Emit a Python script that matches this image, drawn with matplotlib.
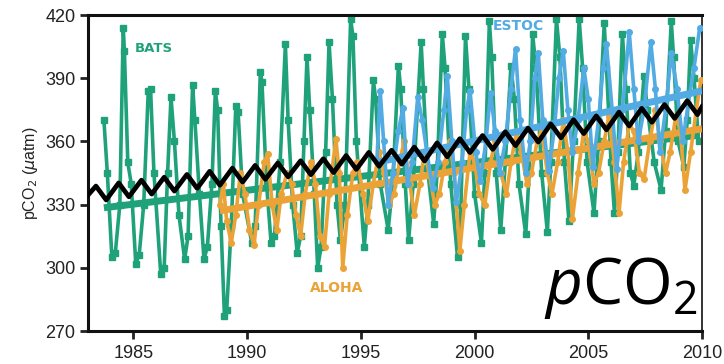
import numpy as np
import matplotlib as mpl
mpl.use('Agg')
from matplotlib import pyplot as plt

# BATS (green): decimal year, pCO2
bats_t = [1983.70, 1983.85, 1984.05, 1984.20, 1984.40, 1984.55, 1984.60, 1984.75, 1984.90,
          1985.10, 1985.25, 1985.45, 1985.65, 1985.75, 1985.90, 1986.20, 1986.35, 1986.50,
          1986.65, 1986.80, 1987.00, 1987.25, 1987.40, 1987.60, 1987.70, 1987.90, 1988.10,
          1988.25, 1988.45, 1988.60, 1988.70, 1988.85, 1989.00, 1989.10, 1989.30, 1989.50,
          1989.60, 1989.80, 1990.20, 1990.35, 1990.58, 1990.65, 1990.85, 1991.05, 1991.20,
          1991.45, 1991.68, 1991.80, 1992.00, 1992.20, 1992.35, 1992.50, 1992.63, 1992.75,
          1992.95, 1993.10, 1993.25, 1993.45, 1993.60, 1993.75, 1993.95, 1994.10, 1994.30,
          1994.55, 1994.65, 1994.80, 1995.15, 1995.30, 1995.55, 1995.65, 1995.85, 1996.20,
          1996.40, 1996.65, 1996.75, 1996.95, 1997.10, 1997.30, 1997.65, 1997.75, 1997.95,
          1998.20, 1998.35, 1998.58, 1998.70, 1998.95, 1999.25, 1999.40, 1999.60, 1999.75,
          2000.00, 2000.30, 2000.45, 2000.65, 2000.75, 2000.95, 2001.15, 2001.35, 2001.60,
          2001.75, 2001.95, 2002.25, 2002.40, 2002.55, 2002.70, 2002.95, 2003.20, 2003.35,
          2003.60, 2003.75, 2003.95, 2004.15, 2004.35, 2004.60, 2004.75, 2004.95, 2005.25,
          2005.45, 2005.70, 2005.80, 2006.00, 2006.15, 2006.30, 2006.50, 2006.65, 2006.85,
          2007.00, 2007.20, 2007.45, 2007.60, 2007.90, 2008.20, 2008.40, 2008.65, 2008.75,
          2008.95, 2009.20, 2009.35, 2009.50, 2009.65, 2009.85]
bats_v = [370, 345, 305, 307, 330, 414, 403, 350, 340,
          302, 306, 330, 384, 385, 345, 297, 300, 345,
          381, 360, 325, 304, 315, 387, 370, 335, 304,
          310, 340, 384, 375, 320, 277, 280, 320, 377,
          374, 335, 312, 320, 393, 388, 340, 312, 315,
          350, 406, 370, 330, 307, 315, 360, 400, 375,
          335, 300, 310, 355, 407, 380, 330, 313, 330,
          418, 410, 360, 310, 330, 389, 380, 340, 318,
          340, 396, 385, 340, 313, 340, 407, 385, 345,
          321, 345, 411, 395, 340, 305, 330, 410, 385,
          335, 312, 345, 417, 400, 345, 318, 350, 396,
          380, 340, 316, 345, 411, 395, 345, 317, 350,
          418, 400, 350, 322, 360, 418, 395, 350, 326,
          360, 416, 395, 350, 326, 355, 411, 385, 345,
          339, 355, 391, 375, 350, 337, 365, 417, 400,
          360, 348, 370, 408, 390, 360]

# ALOHA (orange)
aloha_t = [1988.80, 1988.95, 1989.10, 1989.30, 1989.50, 1989.70, 1989.90, 1990.10, 1990.30,
           1990.50, 1990.75, 1990.90, 1991.10, 1991.30, 1991.50, 1991.75, 1991.95, 1992.15,
           1992.35, 1992.55, 1992.80, 1993.00, 1993.20, 1993.40, 1993.60, 1993.90, 1994.05,
           1994.20, 1994.40, 1994.65, 1994.85, 1995.10, 1995.30, 1995.55, 1995.80, 1996.00,
           1996.25, 1996.45, 1996.70, 1996.90, 1997.15, 1997.35, 1997.60, 1997.80, 1998.00,
           1998.25, 1998.45, 1998.70, 1998.90, 1999.10, 1999.35, 1999.55, 1999.80, 2000.00,
           2000.20, 2000.45, 2000.70, 2000.90, 2001.15, 2001.40, 2001.60, 2001.85, 2002.05,
           2002.30, 2002.50, 2002.75, 2002.95, 2003.20, 2003.40, 2003.65, 2003.90, 2004.10,
           2004.30, 2004.55, 2004.80, 2005.00, 2005.25, 2005.45, 2005.70, 2005.90, 2006.15,
           2006.35, 2006.55, 2006.80, 2007.00, 2007.25, 2007.45, 2007.70, 2007.95, 2008.15,
           2008.40, 2008.60, 2008.85, 2009.05, 2009.25, 2009.50, 2009.75, 2009.95]
aloha_v = [330, 340, 322, 312, 325, 345, 335, 318, 311,
           330, 350, 354, 330, 318, 335, 345, 340, 325,
           315, 335, 350, 340, 315, 310, 335, 361, 345,
           300, 325, 345, 350, 335, 322, 340, 355, 345,
           330, 335, 350, 360, 340, 325, 340, 355, 345,
           330, 335, 350, 360, 345, 308, 330, 355, 350,
           335, 330, 350, 360, 345, 335, 350, 365, 355,
           340, 345, 360, 365, 345, 335, 350, 370, 355,
           323, 345, 365, 360, 340, 345, 360, 372, 350,
           326, 350, 368, 365, 345, 342, 360, 375, 360,
           345, 355, 372, 365, 337, 355, 375, 389]

# ESTOC (blue)
estoc_t = [1995.70, 1995.85, 1996.00, 1996.20, 1996.40, 1996.65, 1996.85, 1997.05, 1997.25,
           1997.50, 1997.70, 1997.90, 1998.15, 1998.40, 1998.65, 1998.80, 1999.00, 1999.20,
           1999.45, 1999.65, 1999.80, 2000.05, 2000.25, 2000.50, 2000.70, 2000.90, 2001.10,
           2001.35, 2001.60, 2001.80, 2002.00, 2002.25, 2002.45, 2002.65, 2002.80, 2003.00,
           2003.25, 2003.50, 2003.70, 2003.90, 2004.10, 2004.30, 2004.55, 2004.80, 2005.00,
           2005.20, 2005.45, 2005.65, 2005.80, 2006.05, 2006.25, 2006.50, 2006.80, 2007.00,
           2007.20, 2007.45, 2007.75, 2007.95, 2008.15, 2008.40, 2008.65, 2008.90, 2009.15,
           2009.40, 2009.65, 2009.90]
estoc_v = [350, 384, 360, 330, 345, 365, 376, 340, 350,
           381, 370, 355, 338, 350, 375, 391, 360, 331,
           350, 375, 384, 355, 341, 360, 383, 365, 345,
           360, 385, 404, 370, 345, 360, 390, 402, 370,
           346, 365, 390, 403, 375, 355, 370, 395, 380,
           348, 370, 395, 406, 375, 347, 375, 412, 385,
           360, 375, 407, 385, 355, 375, 402, 385, 360,
           378, 395, 414]

# linear trends (start/end)
bats_trend_t = [1983.7, 2009.9]
bats_trend_v = [328.5, 363]
aloha_trend_t = [1988.8, 2010.0]
aloha_trend_v = [327, 366]
estoc_trend_t = [1995.7, 2010.0]
estoc_trend_v = [350, 384]

# atmospheric pCO2 (black): seasonal highs and lows
atm_t = [1983.00, 1983.35, 1983.80, 1984.35, 1984.80, 1985.35, 1985.80, 1986.35, 1986.80,
         1987.35, 1987.80, 1988.35, 1988.80, 1989.35, 1989.80, 1990.35, 1990.80, 1991.35,
         1991.80, 1992.35, 1992.80, 1993.35, 1993.80, 1994.35, 1994.80, 1995.35, 1995.80,
         1996.35, 1996.80, 1997.35, 1997.80, 1998.35, 1998.80, 1999.35, 1999.80, 2000.35,
         2000.80, 2001.35, 2001.80, 2002.35, 2002.80, 2003.35, 2003.80, 2004.35, 2004.80,
         2005.35, 2005.80, 2006.35, 2006.80, 2007.35, 2007.80, 2008.35, 2008.80, 2009.35,
         2009.80, 2010.00]
atm_v = [334.5, 338.8, 332.2, 340.3, 333.7, 341.6, 335.0, 343.0, 336.4,
         344.3, 337.7, 345.8, 339.2, 347.3, 340.7, 348.6, 342.0, 349.8,
         343.2, 350.8, 344.2, 351.8, 345.2, 353.3, 346.7, 354.8, 348.2,
         355.8, 349.2, 357.3, 350.7, 359.3, 352.7, 361.3, 354.7, 362.8,
         356.2, 364.6, 358.0, 366.3, 359.7, 368.3, 361.7, 370.3, 363.7,
         372.1, 365.5, 373.9, 367.3, 375.7, 369.1, 377.5, 370.9, 379.3,
         372.7, 376.5]

green = '#1fa27a'
orange = '#eba236'
blue = '#52abe2'

f = plt.figure( figsize = ( 7.24 , 3.64 ) , dpi = 100 )
ax = f.add_axes( [ 88/724 , 1 - 331/364 , 614/724 , 316/364 ] )

ax.plot( bats_t , bats_v , color = green , lw = 2.6 , marker = 's' , ms = 4 , zorder = 2 )
ax.plot( bats_trend_t , bats_trend_v , color = green , lw = 5 , solid_capstyle = 'butt' , zorder = 2.5 )
ax.plot( aloha_t , aloha_v , color = orange , lw = 2.6 , marker = 'o' , ms = 4 , zorder = 3 )
ax.plot( aloha_trend_t , aloha_trend_v , color = orange , lw = 5 , solid_capstyle = 'butt' , zorder = 3.5 )
ax.plot( estoc_t , estoc_v , color = blue , lw = 2.6 , marker = 'o' , ms = 4 , zorder = 4 )
ax.plot( estoc_trend_t , estoc_trend_v , color = blue , lw = 5 , solid_capstyle = 'butt' , zorder = 4.5 )
ax.plot( atm_t , atm_v , color = 'black' , lw = 3.4 , zorder = 5 )

lf = 'Liberation Sans Narrow'
ax.text( 1985.07 , 402.5 , 'BATS' , color = green , fontsize = 9.5 , fontweight = 'bold' , family = lf )
ax.text( 1992.76 , 288.5 , 'ALOHA' , color = orange , fontsize = 10 , fontweight = 'bold' , family = lf )
ax.text( 2000.8 , 412.7 , 'ESTOC' , color = blue , fontsize = 10 , fontweight = 'bold' , family = lf )

plt.rcParams[ 'mathtext.fontset' ] = 'custom'
plt.rcParams[ 'mathtext.rm' ] = 'Open Sans'
plt.rcParams[ 'mathtext.it' ] = 'Open Sans:italic'
ax.text( 0.993 , 0.085 , r'$\mathit{p}\mathrm{CO}_2$' , transform = ax.transAxes ,
         fontsize = 46 , ha = 'right' , va = 'baseline' , color = 'black' , zorder = 6 )

ax.set_xlim( [ 1983 , 2010 ] )
ax.set_ylim( [ 270 , 420 ] )
ax.set_xticks( [ 1985 , 1990 , 1995 , 2000 , 2005 , 2010 ] )
ax.set_yticks( [ 270 , 300 , 330 , 360 , 390 , 420 ] )

fs = 13
for lab in ax.get_xticklabels() + ax.get_yticklabels() :
    lab.set_family( 'Liberation Sans' )
    lab.set_fontsize( fs )
    lab.set_color( '#222222' )
ax.tick_params( direction = 'out' , length = 6 , width = 2 , color = '#222222' , pad = 3 )
ax.tick_params( axis = 'x' , pad = 4 )

for s in [ 'left' , 'bottom' , 'top' ] :
    ax.spines[ s ].set_linewidth( 2.2 )
    ax.spines[ s ].set_color( '#111111' )
ax.spines[ 'right' ].set_linewidth( 1.4 )
ax.spines[ 'right' ].set_color( '#333333' )

ax.set_ylabel( r'pCO$_2$ ($\mu$atm)' , fontsize = 11.5 , family = 'Liberation Sans' , color = '#222222' , labelpad = 4 )

f.savefig( 'out.png' )
